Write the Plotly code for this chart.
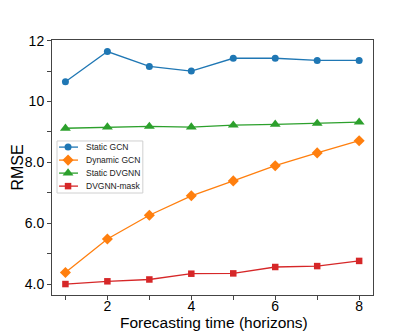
import plotly.graph_objects as go

horizons = [1, 2, 3, 4, 5, 6, 7, 8]
static_gcn = [10.65, 11.64, 11.15, 11.0, 11.42, 11.42, 11.35, 11.35]
dynamic_gcn = [4.38, 5.48, 6.26, 6.9, 7.39, 7.89, 8.31, 8.71]
static_dvgnn = [9.12, 9.16, 9.18, 9.16, 9.22, 9.25, 9.28, 9.32]
dvgnn_mask = [4.0, 4.09, 4.15, 4.34, 4.35, 4.56, 4.59, 4.76]

y_tickvals = [4, 5, 6, 7, 8, 9, 10, 11, 12]
y_ticktext = ["4.0", "", "6.0", "", "8.0", "", "10", "", "12"]
x_tickvals = [1, 2, 3, 4, 5, 6, 7, 8]
x_ticktext = ["", "2", "", "4", "", "6", "", "8"]

series = [
    ("Static GCN", static_gcn, "#1f77b4", "circle", 7),
    ("Dynamic GCN", dynamic_gcn, "#ff7f0e", "diamond", 8.5),
    ("Static DVGNN", static_dvgnn, "#2ca02c", "triangle-up", 9.5),
    ("DVGNN-mask", dvgnn_mask, "#d62728", "square", 6.5),
]

fig = go.Figure()
for name, vals, color, symbol, size in series:
    fig.add_trace(go.Scatter(
        x=horizons, y=vals, name=name, mode="lines+markers",
        line=dict(color=color, width=1.3),
        marker=dict(color=color, symbol=symbol, size=size),
        showlegend=False,
    ))

# hand-drawn legend (matplotlib style, compact rows) on an overlay axis 0..1
leg_rows = [0.580, 0.529, 0.478, 0.427]
for (name, vals, color, symbol, size), ly in zip(series, leg_rows):
    fig.add_trace(go.Scatter(
        x=[0.022, 0.081], y=[ly, ly], mode="lines", line=dict(color=color, width=1.3),
        xaxis="x2", yaxis="y2", showlegend=False, hoverinfo="skip"))
    fig.add_trace(go.Scatter(
        x=[0.05], y=[ly], mode="markers", marker=dict(color=color, symbol=symbol, size=size),
        xaxis="x2", yaxis="y2", showlegend=False, hoverinfo="skip"))
    fig.add_annotation(x=0.1, y=ly, xref="x2", yref="y2", text=name, showarrow=False,
                       xanchor="left", yanchor="middle", font=dict(size=8.5, color="#222"))
fig.add_shape(type="rect", xref="x2", yref="y2", x0=0.0156, x1=0.283, y0=0.400, y1=0.604,
              line=dict(color="#d0d0d0", width=1), fillcolor="rgba(255,255,255,0.8)", layer="below")

# axis titles as annotations so they sit exactly where matplotlib put them
fig.add_annotation(x=0.505, y=-0.106, xref="paper", yref="paper", text="Forecasting time (horizons)",
                   showarrow=False, xanchor="center", yanchor="middle", font=dict(size=15.5))
fig.add_annotation(x=-0.109, y=0.5, xref="paper", yref="paper", text="RMSE", textangle=-90,
                   showarrow=False, xanchor="center", yanchor="middle", font=dict(size=16))

axis_common = dict(
    showline=True, linecolor="#444", linewidth=1, mirror=True,
    ticks="outside", tickcolor="#444", ticklen=4, showgrid=False, zeroline=False,
    tickfont=dict(size=14, color="black"), automargin=False,
)

# page body has an 8px margin, so the figure is shrunk and shifted to compensate
fig.update_layout(
    width=407, height=324,
    margin=dict(l=44, r=42, t=32, b=37),
    paper_bgcolor="white", plot_bgcolor="white",
    font=dict(family="Liberation Sans, Arial, sans-serif", color="black"),
    xaxis=dict(range=[0.68, 8.33], tickvals=x_tickvals, ticktext=x_ticktext,
               ticklabelstandoff=-6, **axis_common),
    yaxis=dict(range=[3.64, 12.02], tickvals=y_tickvals, ticktext=y_ticktext,
               **axis_common),
    xaxis2=dict(overlaying="x", range=[0, 1], visible=False, fixedrange=True),
    yaxis2=dict(overlaying="y", range=[0, 1], visible=False, fixedrange=True),
    showlegend=False,
)

fig.write_html("out.html")
